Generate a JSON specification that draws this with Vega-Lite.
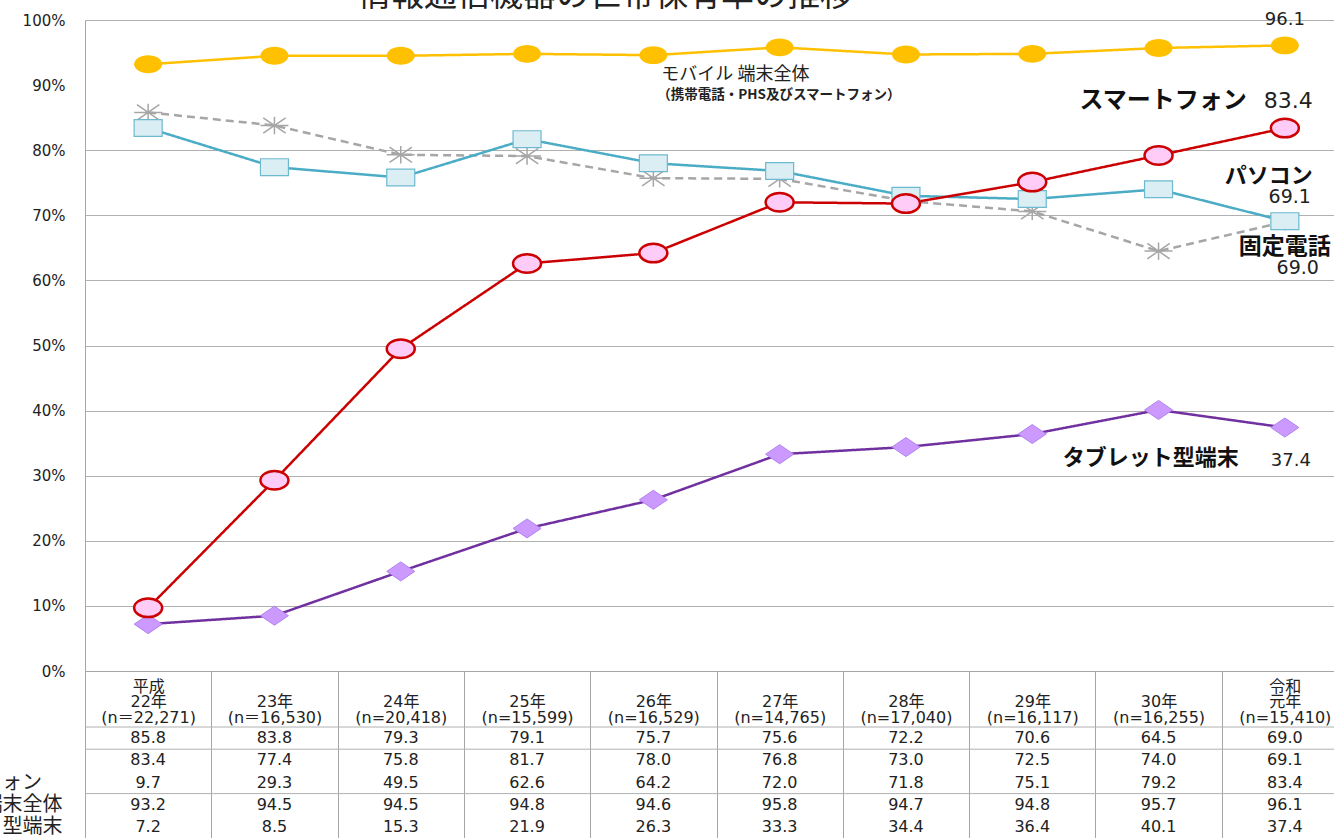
{
  "$schema": "https://vega.github.io/schema/vega-lite/v6.json",
  "autosize": {"type": "none"},
  "padding": {"left": 85, "top": 20, "right": 0, "bottom": 0},
  "width": 1249,
  "height": 818,
  "background": "white",
  "config": {"view": {"stroke": null}},
  "title": {"text": "情報通信機器の世帯保有率の推移", "font": "Noto Sans CJK JP", "fontSize": 33, "fontWeight": "normal", "color": "#222222", "anchor": "middle", "frame": "group", "baseline": "bottom", "offset": 0, "dx": -104, "dy": 35},
  "data": {"values": [
    {"cat": "平成|22年|(n＝22,271)", "series": "固定電話", "value": 85.8},
    {"cat": "23年|(n＝16,530)", "series": "固定電話", "value": 83.8},
    {"cat": "24年|(n=20,418)", "series": "固定電話", "value": 79.3},
    {"cat": "25年|(n=15,599)", "series": "固定電話", "value": 79.1},
    {"cat": "26年|(n=16,529)", "series": "固定電話", "value": 75.7},
    {"cat": "27年|(n=14,765)", "series": "固定電話", "value": 75.6},
    {"cat": "28年|(n=17,040)", "series": "固定電話", "value": 72.2},
    {"cat": "29年|(n=16,117)", "series": "固定電話", "value": 70.6},
    {"cat": "30年|(n=16,255)", "series": "固定電話", "value": 64.5},
    {"cat": "令和|元年|(n=15,410)", "series": "固定電話", "value": 69.0},
    {"cat": "平成|22年|(n＝22,271)", "series": "パソコン", "value": 83.4},
    {"cat": "23年|(n＝16,530)", "series": "パソコン", "value": 77.4},
    {"cat": "24年|(n=20,418)", "series": "パソコン", "value": 75.8},
    {"cat": "25年|(n=15,599)", "series": "パソコン", "value": 81.7},
    {"cat": "26年|(n=16,529)", "series": "パソコン", "value": 78.0},
    {"cat": "27年|(n=14,765)", "series": "パソコン", "value": 76.8},
    {"cat": "28年|(n=17,040)", "series": "パソコン", "value": 73.0},
    {"cat": "29年|(n=16,117)", "series": "パソコン", "value": 72.5},
    {"cat": "30年|(n=16,255)", "series": "パソコン", "value": 74.0},
    {"cat": "令和|元年|(n=15,410)", "series": "パソコン", "value": 69.1},
    {"cat": "平成|22年|(n＝22,271)", "series": "タブレット型端末", "value": 7.2},
    {"cat": "23年|(n＝16,530)", "series": "タブレット型端末", "value": 8.5},
    {"cat": "24年|(n=20,418)", "series": "タブレット型端末", "value": 15.3},
    {"cat": "25年|(n=15,599)", "series": "タブレット型端末", "value": 21.9},
    {"cat": "26年|(n=16,529)", "series": "タブレット型端末", "value": 26.3},
    {"cat": "27年|(n=14,765)", "series": "タブレット型端末", "value": 33.3},
    {"cat": "28年|(n=17,040)", "series": "タブレット型端末", "value": 34.4},
    {"cat": "29年|(n=16,117)", "series": "タブレット型端末", "value": 36.4},
    {"cat": "30年|(n=16,255)", "series": "タブレット型端末", "value": 40.1},
    {"cat": "令和|元年|(n=15,410)", "series": "タブレット型端末", "value": 37.4},
    {"cat": "平成|22年|(n＝22,271)", "series": "スマートフォン", "value": 9.7},
    {"cat": "23年|(n＝16,530)", "series": "スマートフォン", "value": 29.3},
    {"cat": "24年|(n=20,418)", "series": "スマートフォン", "value": 49.5},
    {"cat": "25年|(n=15,599)", "series": "スマートフォン", "value": 62.6},
    {"cat": "26年|(n=16,529)", "series": "スマートフォン", "value": 64.2},
    {"cat": "27年|(n=14,765)", "series": "スマートフォン", "value": 72.0},
    {"cat": "28年|(n=17,040)", "series": "スマートフォン", "value": 71.8},
    {"cat": "29年|(n=16,117)", "series": "スマートフォン", "value": 75.1},
    {"cat": "30年|(n=16,255)", "series": "スマートフォン", "value": 79.2},
    {"cat": "令和|元年|(n=15,410)", "series": "スマートフォン", "value": 83.4},
    {"cat": "平成|22年|(n＝22,271)", "series": "モバイル端末全体", "value": 93.2},
    {"cat": "23年|(n＝16,530)", "series": "モバイル端末全体", "value": 94.5},
    {"cat": "24年|(n=20,418)", "series": "モバイル端末全体", "value": 94.5},
    {"cat": "25年|(n=15,599)", "series": "モバイル端末全体", "value": 94.8},
    {"cat": "26年|(n=16,529)", "series": "モバイル端末全体", "value": 94.6},
    {"cat": "27年|(n=14,765)", "series": "モバイル端末全体", "value": 95.8},
    {"cat": "28年|(n=17,040)", "series": "モバイル端末全体", "value": 94.7},
    {"cat": "29年|(n=16,117)", "series": "モバイル端末全体", "value": 94.8},
    {"cat": "30年|(n=16,255)", "series": "モバイル端末全体", "value": 95.7},
    {"cat": "令和|元年|(n=15,410)", "series": "モバイル端末全体", "value": 96.1}
  ]},
  "encoding": {
    "x": {
      "field": "cat", "type": "nominal",
      "sort": ["平成|22年|(n＝22,271)", "23年|(n＝16,530)", "24年|(n=20,418)", "25年|(n=15,599)", "26年|(n=16,529)", "27年|(n=14,765)", "28年|(n=17,040)", "29年|(n=16,117)", "30年|(n=16,255)", "令和|元年|(n=15,410)"],
      "scale": {"type": "band", "range": [0, 1263], "paddingInner": 0, "paddingOuter": 0},
      "axis": {
        "orient": "bottom", "offset": -167, "title": null, "grid": false,
        "domain": true, "domainColor": "#A6A6A6", "domainWidth": 1,
        "ticks": true, "tickBand": "extent", "tickSize": 167, "tickColor": "#A6A6A6", "tickWidth": 1,
        "labelExpr": "split(indexof(datum.label, '|') === 3 ? ' |' + datum.label : datum.label, '|')",
        "labelAngle": 0, "labelOverlap": false, "labelLimit": 300,
        "labelPadding": -160, "labelBaseline": "top", "labelLineHeight": 15.5,
        "labelFont": "DejaVu Sans, Noto Sans CJK JP", "labelFontSize": 16, "labelColor": "#222222"
      }
    }
  },
  "layer": [
    {
      "encoding": {
        "y": {
          "field": "value", "type": "quantitative",
          "scale": {"domain": [0, 100], "range": [651, 0], "nice": false},
          "axis": {
            "orient": "left", "title": null, "values": [0, 10, 20, 30, 40, 50, 60, 70, 80, 90, 100],
            "labelExpr": "datum.value + '%'", "ticks": false, "domain": true, "domainColor": "#A6A6A6",
            "grid": true, "gridColor": {"condition": {"test": "datum.value === 90", "value": "transparent"}, "value": "#B0B0B0"},
            "labelPadding": 20, "labelFont": "DejaVu Sans", "labelFontSize": 15, "labelColor": "#222222"
          }
        }
      },
      "layer": [
        {
          "mark": {"type": "line", "strokeWidth": 2.5},
          "encoding": {
            "stroke": {"field": "series", "type": "nominal", "legend": null,
              "scale": {"domain": ["固定電話", "パソコン", "タブレット型端末", "スマートフォン", "モバイル端末全体"], "range": ["#A6A6A6", "#4BACC6", "#7030A0", "#CC0000", "#FFC000"]}},
            "strokeDash": {"field": "series", "type": "nominal", "legend": null,
              "scale": {"domain": ["固定電話", "パソコン", "タブレット型端末", "スマートフォン", "モバイル端末全体"], "range": [[8, 5], [1, 0], [1, 0], [1, 0], [1, 0]]}}
          }
        },
        {
          "transform": [{"filter": "datum.series === '固定電話'"}],
          "mark": {"type": "point", "shape": "M-1,0L1,0M0,-0.62L0,0.62M-0.8,-0.55L0.8,0.55M-0.8,0.55L0.8,-0.55", "size": 784, "filled": false, "stroke": "#A6A6A6", "strokeWidth": 1.5, "opacity": 1}
        },
        {
          "transform": [{"filter": "datum.series === 'パソコン'"}],
          "mark": {"type": "point", "shape": "M-1,-0.6L1,-0.6L1,0.6L-1,0.6Z", "size": 784, "filled": true, "fill": "#DAEEF3", "stroke": "#6DB9D0", "strokeWidth": 1.2, "opacity": 1}
        },
        {
          "transform": [{"filter": "datum.series === 'タブレット型端末'"}],
          "mark": {"type": "point", "shape": "M-1,0L0,-0.68L1,0L0,0.68Z", "size": 784, "filled": true, "fill": "#CC99FF", "stroke": "#B282F0", "strokeWidth": 1, "opacity": 1}
        },
        {
          "transform": [{"filter": "datum.series === 'スマートフォン'"}],
          "mark": {"type": "point", "shape": "M-1,0A1,0.66,0,1,0,1,0A1,0.66,0,1,0,-1,0Z", "size": 784, "filled": true, "fill": "#FFCCF7", "stroke": "#CC0000", "strokeWidth": 2.5, "opacity": 1}
        },
        {
          "transform": [{"filter": "datum.series === 'モバイル端末全体'"}],
          "mark": {"type": "point", "shape": "M-1,0A1,0.64,0,1,0,1,0A1,0.64,0,1,0,-1,0Z", "size": 784, "filled": true, "fill": "#FFC000", "strokeWidth": 0, "opacity": 1}
        },
        {
          "transform": [{"filter": "datum.series === 'モバイル端末全体' && indexof(datum.cat, '令和') === 0"}],
          "mark": {"type": "text", "align": "center", "baseline": "middle", "dy": -25, "font": "DejaVu Sans", "fontSize": 18, "color": "#222222"},
          "encoding": {"text": {"field": "value", "type": "quantitative", "format": ".1f"}}
        },
        {
          "transform": [{"filter": "datum.series === 'モバイル端末全体' && indexof(datum.cat, '26年') === 0"}],
          "mark": {"type": "text", "text": "モバイル 端末全体", "align": "left", "baseline": "middle", "dx": 8, "dy": 20, "font": "Noto Sans CJK JP", "fontSize": 18, "color": "#222222"}
        },
        {
          "transform": [{"filter": "datum.series === 'モバイル端末全体' && indexof(datum.cat, '26年') === 0"}],
          "mark": {"type": "text", "text": "（携帯電話・PHS及びスマートフォン）", "align": "left", "baseline": "middle", "dx": 4, "dy": 40, "font": "Noto Sans CJK JP", "fontSize": 13.5, "fontWeight": "bold", "color": "#222222"}
        },
        {
          "transform": [{"filter": "datum.series === 'スマートフォン' && indexof(datum.cat, '令和') === 0"}],
          "mark": {"type": "text", "text": "スマートフォン", "align": "right", "baseline": "middle", "dx": -38, "dy": -27, "font": "Noto Sans CJK JP", "fontSize": 24, "fontWeight": "bold", "color": "#111111"}
        },
        {
          "transform": [{"filter": "datum.series === 'スマートフォン' && indexof(datum.cat, '令和') === 0"}],
          "mark": {"type": "text", "align": "right", "baseline": "middle", "dx": 28, "dy": -27, "font": "DejaVu Sans", "fontSize": 22, "color": "#222222"},
          "encoding": {"text": {"field": "value", "type": "quantitative", "format": ".1f"}}
        },
        {
          "transform": [{"filter": "datum.series === 'パソコン' && indexof(datum.cat, '令和') === 0"}],
          "mark": {"type": "text", "text": "パソコン", "align": "right", "baseline": "middle", "dx": 28, "dy": -45, "font": "Noto Sans CJK JP", "fontSize": 22, "fontWeight": "bold", "color": "#111111"}
        },
        {
          "transform": [{"filter": "datum.series === 'パソコン' && indexof(datum.cat, '令和') === 0"}],
          "mark": {"type": "text", "align": "right", "baseline": "middle", "dx": 26, "dy": -24, "font": "DejaVu Sans", "fontSize": 19, "color": "#222222"},
          "encoding": {"text": {"field": "value", "type": "quantitative", "format": ".1f"}}
        },
        {
          "transform": [{"filter": "datum.series === '固定電話' && indexof(datum.cat, '令和') === 0"}],
          "mark": {"type": "text", "text": "固定電話", "align": "right", "baseline": "middle", "dx": 46, "dy": 25, "font": "Noto Sans CJK JP", "fontSize": 23, "fontWeight": "bold", "color": "#111111"}
        },
        {
          "transform": [{"filter": "datum.series === '固定電話' && indexof(datum.cat, '令和') === 0"}],
          "mark": {"type": "text", "align": "right", "baseline": "middle", "dx": 34, "dy": 46, "font": "DejaVu Sans", "fontSize": 19, "color": "#222222"},
          "encoding": {"text": {"field": "value", "type": "quantitative", "format": ".1f"}}
        },
        {
          "transform": [{"filter": "datum.series === 'タブレット型端末' && indexof(datum.cat, '令和') === 0"}],
          "mark": {"type": "text", "text": "タブレット型端末", "align": "right", "baseline": "middle", "dx": -46, "dy": 30, "font": "Noto Sans CJK JP", "fontSize": 22, "fontWeight": "bold", "color": "#111111"}
        },
        {
          "transform": [{"filter": "datum.series === 'タブレット型端末' && indexof(datum.cat, '令和') === 0"}],
          "mark": {"type": "text", "align": "right", "baseline": "middle", "dx": 26, "dy": 33, "font": "DejaVu Sans", "fontSize": 18, "color": "#222222"},
          "encoding": {"text": {"field": "value", "type": "quantitative", "format": ".1f"}}
        }
      ]
    },
    {
      "encoding": {
        "y": {
          "field": "series", "type": "nominal",
          "scale": {"type": "band", "domain": ["固定電話", "パソコン", "スマートフォン", "モバイル端末全体", "タブレット型端末"], "range": [707, 818], "paddingInner": 0, "paddingOuter": 0},
          "axis": {
            "orient": "left", "title": null, "ticks": false, "domain": true, "domainColor": "#A6A6A6",
            "grid": false,
            "labelAlign": "left", "labelPadding": 183, "labelBaseline": "middle",
            "labelFont": "Noto Sans CJK JP", "labelFontSize": 20, "labelColor": "#222222", "labelLimit": 400
          }
        }
      },
      "layer": [
        {
          "transform": [{"filter": "indexof(datum.cat, '平成') === 0 && (datum.series === '固定電話' || datum.series === 'パソコン' || datum.series === 'モバイル端末全体')"}],
          "mark": {"type": "rule", "color": "#B0B0B0", "strokeWidth": 1},
          "encoding": {
            "y": {"field": "series", "type": "nominal", "bandPosition": 0},
            "x": {"value": 0},
            "x2": {"value": "width"}
          }
        },
        {
          "mark": {"type": "text", "align": "center", "baseline": "middle", "font": "DejaVu Sans", "fontSize": 16, "color": "#222222"},
          "encoding": {"text": {"field": "value", "type": "quantitative", "format": ".1f"}}
        }
      ]
    }
  ],
  "resolve": {"scale": {"y": "independent"}, "axis": {"y": "independent"}}
}
